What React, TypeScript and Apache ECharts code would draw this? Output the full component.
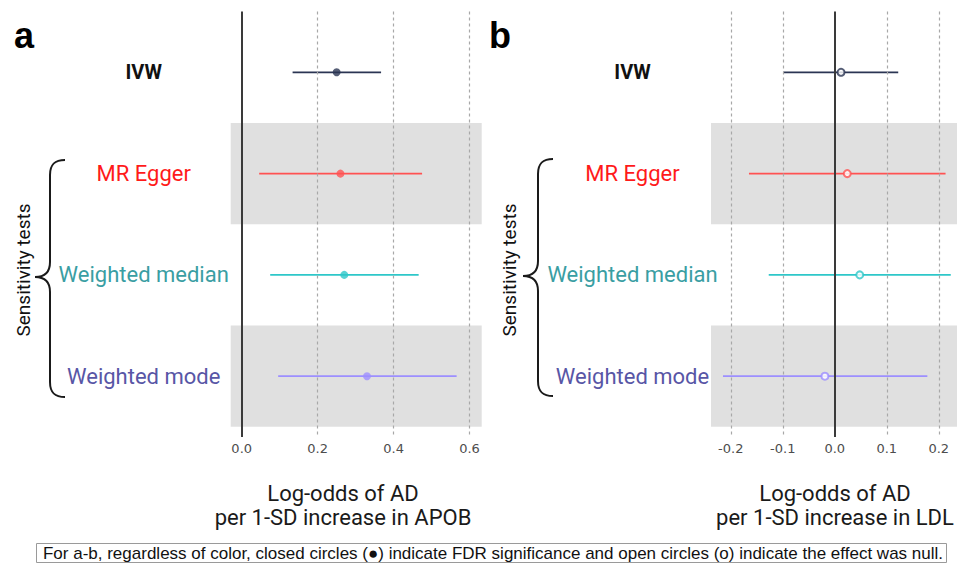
import React, { useEffect, useRef } from "react";
import * as echarts from "echarts";

// ---------- data ----------
const methods = ["IVW", "MR Egger", "Weighted median", "Weighted mode"];
const rowPos = [1, 2, 3, 4];

const apobEstimate = [0.25, 0.26, 0.27, 0.33];
const apobLower = [0.134, 0.046, 0.075, 0.096];
const apobUpper = [0.367, 0.475, 0.466, 0.566];
const apobSignificant = [true, true, true, true];
const apobTicks = [0, 0.2, 0.4, 0.6];

const ldlEstimate = [0.012, 0.024, 0.048, -0.019];
const ldlLower = [-0.099, -0.165, -0.127, -0.215];
const ldlUpper = [0.122, 0.213, 0.223, 0.178];
const ldlSignificant = [false, false, false, false];
const ldlTicks = [-0.2, -0.1, 0, 0.1, 0.2];

const shadedRows = [2, 4];

// ---------- styles ----------
const markColors = ["#2b3553", "#ff5252", "#2ec7c9", "#9d8fff"];
const labelColors = ["#111111", "#ff1a1a", "#3a9ea3", "#5856a6"];

const bracePath =
  "M30 0 C20 0 15 4 15 15 L15 102 C15 112 10 117 0 117 C10 117 15 122 15 132 L15 222 C15 233 20 237 30 237";
echarts.graphic.registerShape("brace", echarts.graphic.extendPath(bracePath, {}));

function buildPanel(
  gi: number,
  est: number[],
  lo: number[],
  hi: number[],
  sig: boolean[],
  ticks: number[]
) {
  const series: any[] = [];
  series.push({
    type: "scatter",
    xAxisIndex: gi,
    yAxisIndex: gi,
    data: [],
    z: 1,
    silent: true,
    markArea: {
      silent: true,
      itemStyle: { color: "#e0e0e0" },
      data: shadedRows.map((r) => [{ yAxis: r - 0.5 }, { yAxis: r + 0.5 }]),
    },
  });
  series.push({
    type: "scatter",
    xAxisIndex: gi,
    yAxisIndex: gi,
    data: [],
    z: 2,
    silent: true,
    markLine: {
      silent: true,
      symbol: "none",
      label: { show: false },
      data: ticks.map((t) => ({
        xAxis: t,
        lineStyle:
          t === 0
            ? { color: "#3a3a3a", width: 2, type: "solid" }
            : { color: "#a8a8a8", width: 1.2, type: [3, 3] },
      })),
    },
  });
  series.push({
    type: "custom",
    xAxisIndex: gi,
    yAxisIndex: gi,
    z: 3,
    encode: { x: [0, 1], y: 2 },
    data: rowPos.map((r, i) => [lo[i], hi[i], r]),
    renderItem: (params: any, api: any) => {
      const a = api.coord([api.value(0), api.value(2)]);
      const b = api.coord([api.value(1), api.value(2)]);
      return {
        type: "line",
        shape: { x1: a[0], y1: a[1], x2: b[0], y2: b[1] },
        style: { stroke: markColors[params.dataIndex], lineWidth: 1.8 },
      };
    },
  });
  series.push({
    type: "scatter",
    xAxisIndex: gi,
    yAxisIndex: gi,
    z: 4,
    symbol: "circle",
    symbolSize: sig[0] ? 8 : 7,
    data: rowPos.map((r, i) => ({
      value: [est[i], r],
      itemStyle: sig[i]
        ? { color: markColors[i] }
        : { color: "#ffffff", borderColor: markColors[i], borderWidth: 2 },
    })),
  });
  return series;
}

function yAxisFor(gi: number, margin: number) {
  const rich: any = {};
  methods.forEach((m, i) => {
    rich["m" + (i + 1)] = {
      color: labelColors[i],
      fontFamily: "Roboto",
      fontSize: i === 0 ? 20 : 22,
      fontWeight: i === 0 ? "bold" : "normal",
    };
  });
  return {
    type: "value",
    gridIndex: gi,
    inverse: true,
    min: 0.4,
    max: 4.6,
    axisLine: { show: false },
    axisTick: { show: false },
    splitLine: { show: false },
    axisLabel: {
      customValues: rowPos,
      align: "center",
      margin,
      formatter: (v: number) => `{m${v}|${methods[v - 1]}}`,
      rich,
    },
  };
}

function xAxisFor(gi: number, min: number, max: number, ticks: number[]) {
  return {
    type: "value",
    gridIndex: gi,
    min,
    max,
    axisLine: { show: false },
    axisTick: { show: false },
    splitLine: { show: false },
    axisLabel: {
      customValues: ticks,
      margin: 5,
      color: "#4d4d4d",
      fontFamily: "DejaVu Sans",
      fontSize: 13,
      formatter: (v: number) => v.toFixed(1),
    },
  };
}

export default function App() {
  const ref = useRef<HTMLDivElement>(null);
  useEffect(() => {
    if (!ref.current) return;
    const chart = echarts.init(ref.current, null, { renderer: "svg" });
    const titleStyle = {
      fontFamily: "Roboto",
      fontSize: 22,
      fill: "#1a1a1a",
      align: "center",
      verticalAlign: "middle",
    };
    const option: any = {
      animation: false,
      backgroundColor: "#ffffff",
      grid: [
        { left: 230.7, top: 11.5, width: 251, height: 425.5 },
        { left: 711, top: 11.5, width: 246, height: 425.5 },
      ],
      xAxis: [
        xAxisFor(0, -0.029, 0.632, apobTicks),
        xAxisFor(1, -0.238, 0.235, ldlTicks),
      ],
      yAxis: [yAxisFor(0, 87), yAxisFor(1, 78.5)],
      series: [
        ...buildPanel(0, apobEstimate, apobLower, apobUpper, apobSignificant, apobTicks),
        ...buildPanel(1, ldlEstimate, ldlLower, ldlUpper, ldlSignificant, ldlTicks),
      ],
      graphic: [
        {
          type: "text",
          x: 14,
          y: 35.5,
          style: {
            text: "a",
            fontFamily: "Liberation Sans",
            fontWeight: "bold",
            fontSize: 36,
            fill: "#000",
            verticalAlign: "middle",
          },
        },
        {
          type: "text",
          x: 489,
          y: 35.5,
          style: {
            text: "b",
            fontFamily: "Liberation Sans",
            fontWeight: "bold",
            fontSize: 36,
            fill: "#000",
            verticalAlign: "middle",
          },
        },
        {
          type: "brace",
          x: 35,
          y: 160,
          style: { stroke: "#1a1a1a", fill: "none", lineWidth: 2 },
        },
        {
          type: "brace",
          x: 523,
          y: 159,
          style: { stroke: "#1a1a1a", fill: "none", lineWidth: 2 },
        },
        {
          type: "text",
          x: 23,
          y: 270,
          rotation: Math.PI / 2,
          style: {
            text: "Sensitivity tests",
            fontFamily: "Roboto",
            fontSize: 19,
            fill: "#111",
            align: "center",
            verticalAlign: "middle",
          },
        },
        {
          type: "text",
          x: 509,
          y: 270,
          rotation: Math.PI / 2,
          style: {
            text: "Sensitivity tests",
            fontFamily: "Roboto",
            fontSize: 19,
            fill: "#111",
            align: "center",
            verticalAlign: "middle",
          },
        },
        { type: "text", x: 343, y: 493, style: { ...titleStyle, text: "Log-odds of AD" } },
        {
          type: "text",
          x: 343,
          y: 517,
          style: { ...titleStyle, text: "per 1-SD increase in APOB" },
        },
        { type: "text", x: 835, y: 493, style: { ...titleStyle, text: "Log-odds of AD" } },
        {
          type: "text",
          x: 835,
          y: 517,
          style: { ...titleStyle, text: "per 1-SD increase in LDL" },
        },
        {
          type: "rect",
          shape: { x: 36.5, y: 543.5, width: 910, height: 19 },
          style: { fill: "#ffffff", stroke: "#9a9a9a", lineWidth: 1 },
        },
        {
          type: "text",
          x: 943,
          y: 553.5,
          style: {
            text:
              "For a-b, regardless of color, closed circles (\u25CF) indicate FDR significance and open circles (\u03BF) indicate the effect was null.",
            fontFamily: "Liberation Sans",
            fontSize: 17,
            fill: "#111",
            align: "right",
            verticalAlign: "middle",
          },
        },
      ],
    };
    chart.setOption(option);
    return () => chart.dispose();
  }, []);
  return (
    <div
      ref={ref}
      style={{ position: "fixed", left: 0, top: 0, width: 957, height: 566 }}
    />
  );
}
